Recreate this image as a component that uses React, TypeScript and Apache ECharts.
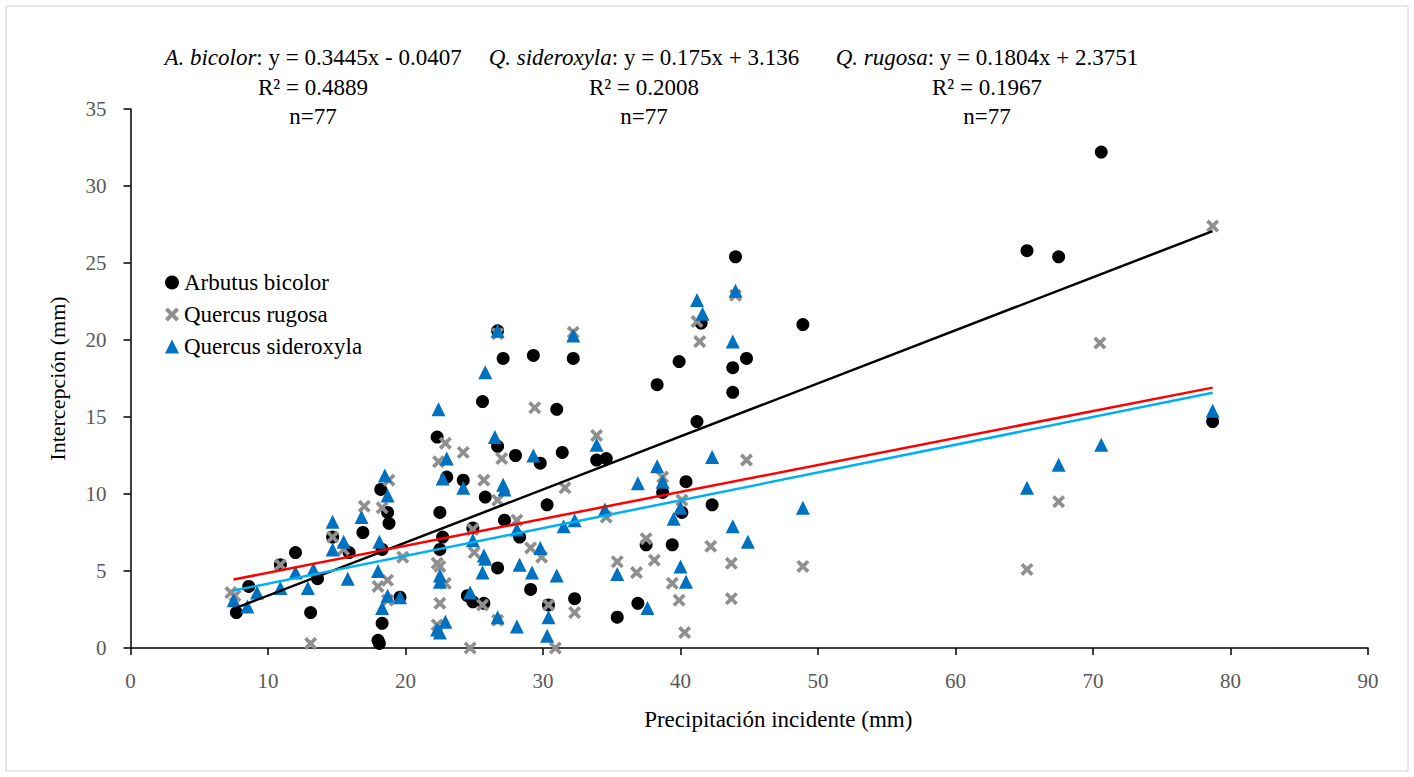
import React, { useEffect, useRef } from "react";
import * as echarts from "echarts";

const seriesNames = ["Arbutus bicolor", "Quercus rugosa", "Quercus sideroxyla"];

const arbutus: number[][] = [
  [7.7, 2.3], [8.6, 4.0], [10.9, 5.4], [12.0, 6.2], [13.1, 2.3], [13.6, 4.5], [14.7, 7.2], [15.9, 6.2],
  [16.9, 7.5], [18.0, 0.5], [18.1, 0.3], [18.3, 1.6], [18.3, 6.4], [18.2, 10.3], [18.7, 8.8], [18.8, 8.1],
  [19.6, 3.3], [22.3, 13.7], [22.5, 8.8], [22.5, 6.4], [22.7, 7.2], [23.0, 11.1], [24.2, 10.9], [24.5, 3.4],
  [24.9, 3.0], [24.9, 7.8], [25.6, 16.0], [25.7, 2.9], [25.8, 9.8], [26.7, 13.1], [26.7, 5.2], [26.7, 20.6],
  [27.1, 18.8], [27.2, 8.3], [28.0, 12.5], [28.3, 7.2], [29.1, 3.8], [29.3, 19.0], [29.8, 12.0], [30.3, 9.3],
  [30.4, 2.8], [31.0, 15.5], [31.4, 12.7], [32.2, 18.8], [32.3, 3.2], [33.9, 12.2], [34.6, 12.3], [35.4, 2.0],
  [36.9, 2.9], [37.5, 6.7], [38.3, 17.1], [38.7, 10.1], [39.4, 6.7], [39.9, 18.6], [40.1, 8.8], [40.4, 10.8],
  [41.2, 14.7], [41.5, 21.1], [42.3, 9.3], [43.8, 16.6], [43.8, 18.2], [44.0, 25.4], [44.8, 18.8], [48.9, 21.0],
  [65.2, 25.8], [67.5, 25.4], [70.6, 32.2], [78.7, 14.7],
];

const rugosa: number[][] = [
  [7.3, 3.6], [7.6, 3.4], [10.9, 5.4], [13.1, 0.3], [14.7, 7.2], [15.5, 6.4], [17.0, 9.2], [18.3, 9.1],
  [18.0, 4.0], [18.7, 4.4], [18.7, 3.1], [18.8, 10.9], [19.8, 5.9], [22.3, 5.5], [22.5, 5.3], [22.5, 2.9],
  [22.3, 1.5], [22.4, 12.1], [22.9, 13.3], [22.9, 4.2], [24.2, 12.7], [24.7, 0.0], [25.0, 6.2], [24.9, 7.7],
  [25.6, 2.8], [25.7, 10.9], [26.7, 9.6], [26.7, 20.4], [26.7, 1.8], [27.0, 12.3], [28.1, 8.3], [29.1, 6.5],
  [29.4, 15.6], [29.9, 5.9], [30.4, 2.8], [30.9, 0.0], [31.6, 10.4], [32.2, 20.5], [32.3, 2.3], [33.9, 13.8],
  [34.6, 8.5], [35.4, 5.6], [36.8, 4.9], [37.5, 7.1], [38.1, 5.7], [38.7, 11.1], [39.4, 4.2], [39.9, 3.1],
  [40.1, 9.6], [40.3, 1.0], [41.2, 21.2], [41.4, 19.9], [42.2, 6.6], [43.7, 5.5], [43.7, 3.2], [44.0, 22.9],
  [44.8, 12.2], [48.9, 5.3], [65.2, 5.1], [67.5, 9.5], [70.5, 19.8], [78.7, 27.4],
];

const sideroxyla: number[][] = [
  [7.5, 3.1], [8.5, 2.7], [9.2, 3.6], [10.9, 3.9], [12.0, 4.9], [12.9, 3.9], [13.3, 5.1], [14.7, 8.2],
  [14.7, 6.4], [15.5, 6.9], [15.8, 4.5], [16.8, 8.5], [18.1, 6.9], [18.5, 11.2], [18.7, 9.9], [18.0, 5.0],
  [18.7, 3.4], [18.3, 2.6], [19.6, 3.3], [22.4, 15.5], [23.0, 12.3], [22.7, 11.0], [24.2, 10.4], [22.5, 4.7],
  [22.5, 4.3], [22.3, 1.2], [22.9, 1.7], [22.5, 1.0], [24.7, 3.6], [25.7, 6.0], [26.7, 2.0], [26.5, 13.7],
  [25.8, 17.9], [26.7, 20.6], [29.3, 12.5], [27.1, 10.6], [27.2, 10.3], [24.9, 7.0], [25.8, 5.8], [25.6, 4.9],
  [28.1, 7.7], [28.3, 5.4], [29.8, 6.5], [29.2, 4.9], [28.1, 1.4], [30.4, 2.0], [30.3, 0.8], [31.0, 4.7],
  [31.5, 7.9], [32.3, 8.3], [32.2, 20.3], [33.9, 13.2], [34.5, 9.0], [35.4, 4.8], [36.9, 10.7], [37.6, 2.6],
  [38.3, 11.8], [38.7, 10.8], [39.5, 8.4], [40.0, 9.1], [40.0, 5.3], [40.4, 4.3], [41.2, 22.6], [41.6, 21.7],
  [42.3, 12.4], [43.8, 19.9], [44.0, 23.2], [43.8, 7.9], [44.9, 6.9], [48.9, 9.1], [65.2, 10.4], [67.5, 11.9],
  [70.6, 13.2], [78.7, 15.4],
];

// Trendline coefficients (slope, intercept) as printed on the chart
const fitBicolor = [0.3445, -0.0407];
const fitSideroxyla = [0.175, 3.136];
const fitRugosa = [0.1804, 2.3751];
const fitRange = [7.5, 78.7];

const annotations = [
  { name: "A. bicolor", eq: ": y = 0.3445x - 0.0407", r2: "R² = 0.4889", n: "n=77", cx: 313 },
  { name: "Q. sideroxyla", eq: ": y = 0.175x + 3.136", r2: "R² = 0.2008", n: "n=77", cx: 644 },
  { name: "Q. rugosa", eq: ": y = 0.1804x + 2.3751", r2: "R² = 0.1967", n: "n=77", cx: 987 },
];

const FONT = "'Liberation Serif', 'DejaVu Serif', serif";

function fitLine(c: number[]) {
  return fitRange.map((x) => [x, c[0] * x + c[1]]);
}

const X_PATH = "path://M2,0 L5,3 L8,0 L10,2 L7,5 L10,8 L8,10 L5,7 L2,10 L0,8 L3,5 L0,2 Z";

export default function App() {
  const ref = useRef<HTMLDivElement>(null);
  useEffect(() => {
    if (!ref.current) return;
    const chart = echarts.init(ref.current, undefined, { renderer: "svg" });
    const graphics: any[] = [
      {
        type: "rect",
        shape: { x: 6, y: 6, width: 1402, height: 765 },
        style: { fill: "none", stroke: "#d0d0d0", lineWidth: 1 },
        silent: true,
      },
    ];
    annotations.forEach((a) => {
      graphics.push({
        type: "text",
        x: a.cx,
        y: 57,
        style: {
          text: `{i|${a.name}}{r|${a.eq}}`,
          align: "center",
          verticalAlign: "middle",
          rich: {
            i: { fontStyle: "italic", fontFamily: FONT, fontSize: 23, fill: "#000" },
            r: { fontFamily: FONT, fontSize: 23, fill: "#000" },
          },
        },
      });
      graphics.push({
        type: "text",
        x: a.cx,
        y: 87,
        style: { text: a.r2, align: "center", verticalAlign: "middle", font: `23px ${FONT}`, fill: "#000" },
      });
      graphics.push({
        type: "text",
        x: a.cx,
        y: 116,
        style: { text: a.n, align: "center", verticalAlign: "middle", font: `23px ${FONT}`, fill: "#000" },
      });
    });

    chart.setOption({
      animation: false,
      backgroundColor: "#ffffff",
      grid: { left: 130.5, right: 46, top: 109, bottom: 129, containLabel: false },
      graphic: graphics,
      legend: {
        orient: "vertical",
        left: 160,
        top: 266,
        itemGap: 9,
        itemWidth: 14,
        itemHeight: 14,
        data: seriesNames,
        textStyle: { fontFamily: FONT, fontSize: 23, color: "#000" },
      },
      xAxis: {
        type: "value",
        min: 0,
        max: 90,
        interval: 10,
        name: "Precipitación incidente (mm)",
        nameLocation: "middle",
        nameGap: 60,
        nameTextStyle: { fontFamily: FONT, fontSize: 23, color: "#000", padding: [0, 0, 0, 58] },
        axisLine: { lineStyle: { color: "#000", width: 1.5 } },
        axisTick: { show: true, inside: false, length: 7, lineStyle: { color: "#000", width: 1.5 } },
        axisLabel: { fontFamily: FONT, fontSize: 21, color: "#595959", margin: 22 },
        splitLine: { show: false },
      },
      yAxis: {
        type: "value",
        min: 0,
        max: 35,
        interval: 5,
        name: "Intercepción (mm)",
        nameLocation: "middle",
        nameGap: 62,
        nameTextStyle: { fontFamily: FONT, fontSize: 22, color: "#000" },
        axisLine: { show: true, lineStyle: { color: "#000", width: 1.5 } },
        axisTick: { show: true, inside: false, length: 7, lineStyle: { color: "#000", width: 1.5 } },
        axisLabel: { fontFamily: FONT, fontSize: 21, color: "#595959", margin: 24 },
        splitLine: { show: false },
      },
      series: [
        {
          name: seriesNames[0],
          type: "scatter",
          data: arbutus,
          symbol: "circle",
          symbolSize: 13,
          itemStyle: { color: "#000000", opacity: 1 },
          z: 2,
        },
        {
          name: seriesNames[1],
          type: "scatter",
          data: rugosa,
          symbol: X_PATH,
          symbolSize: 13,
          itemStyle: { color: "#8f8f8f", opacity: 1 },
          z: 3,
        },
        {
          name: seriesNames[2],
          type: "scatter",
          data: sideroxyla,
          symbol: "triangle",
          symbolSize: 14,
          itemStyle: { color: "#0070C0", opacity: 1 },
          z: 4,
        },
        {
          name: "fit-bicolor",
          type: "line",
          data: fitLine(fitBicolor),
          showSymbol: false,
          symbol: "none",
          lineStyle: { color: "#000000", width: 2.5 },
          z: 5,
          silent: true,
        },
        {
          name: "fit-rugosa",
          type: "line",
          data: fitLine(fitRugosa),
          showSymbol: false,
          symbol: "none",
          lineStyle: { color: "#00B0F0", width: 2.5 },
          z: 5,
          silent: true,
        },
        {
          name: "fit-sideroxyla",
          type: "line",
          data: fitLine(fitSideroxyla),
          showSymbol: false,
          symbol: "none",
          lineStyle: { color: "#FF0000", width: 2.5 },
          z: 5,
          silent: true,
        },
      ],
    });
    return () => chart.dispose();
  }, []);
  return (
    <div
      ref={ref}
      style={{ position: "fixed", left: 0, top: 0, width: 1414, height: 777, background: "#fff" }}
    />
  );
}
